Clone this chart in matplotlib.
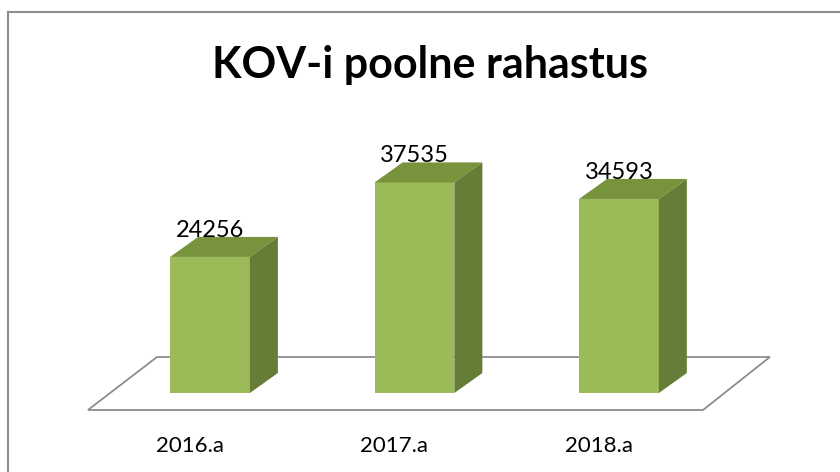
import matplotlib
matplotlib.use("Agg")
import matplotlib.pyplot as plt
from matplotlib.patches import Polygon
from matplotlib.lines import Line2D

categories = ["2016.a", "2017.a", "2018.a"]
values = [24256, 37535, 34593]
title = "KOV-i poolne rahastus"

FRONT = "#9bbb59"
TOP = "#77933c"
SIDE = "#657d37"
FONT = ["Lato", "DejaVu Sans"]

fig = plt.figure(figsize=(8.4, 4.72), dpi=100)
ax = fig.add_axes([0, 0, 1, 1])
ax.set_xlim(-1.027, 3.081)
ax.set_ylim(-14082, 70053)
ax.axis("off")

bar_w = 0.39
dx, dy = 0.137, 3565  # depth offset of bars (data units)
x = list(range(len(categories)))

# floor
fl_front, fl_back = -3030, 6417
floor = Polygon([(-0.597, fl_front), (-0.259, fl_back), (len(x) - 1 + 0.738, fl_back),
                 (len(x) - 1 + 0.411, fl_front)], closed=True, facecolor="white",
                edgecolor="#8c8c8c", lw=1.3, zorder=1)
ax.add_patch(floor)

bars = ax.bar(x, values, width=bar_w, color=FRONT, zorder=3, linewidth=0)
for xi, v in zip(x, values):
    l, r = xi - bar_w / 2, xi + bar_w / 2
    ax.add_patch(Polygon([(l, v), (l + dx, v + dy), (r + dx, v + dy), (r, v)],
                         closed=True, facecolor=TOP, lw=0, zorder=3))
    ax.add_patch(Polygon([(r, 0), (r, v), (r + dx, v + dy), (r + dx, dy)],
                         closed=True, facecolor=SIDE, lw=0, zorder=3))
    ax.text(xi, v + dy, f"{v}", ha="center", va="baseline", fontsize=17,
            family=FONT, color="black", zorder=5)

for xi, c in zip(x, categories):
    ax.text(xi - 0.1, -10500, c, ha="center", va="baseline", fontsize=16,
            family=FONT, color="black")

fig.text(0.512, 1 - 78 / 472, title, ha="center", va="baseline", fontsize=31,
         fontweight="bold", family=FONT)

# chart border (left and top visible)
fig.add_artist(Line2D([8 / 840, 8 / 840], [0, 1 - 12 / 472], color="#8c8c8c", lw=1.5,
                      transform=fig.transFigure))
fig.add_artist(Line2D([8 / 840, 1], [1 - 12 / 472, 1 - 12 / 472], color="#8c8c8c", lw=1.5,
                      transform=fig.transFigure))

fig.savefig("out.png", dpi=100, facecolor="white")
